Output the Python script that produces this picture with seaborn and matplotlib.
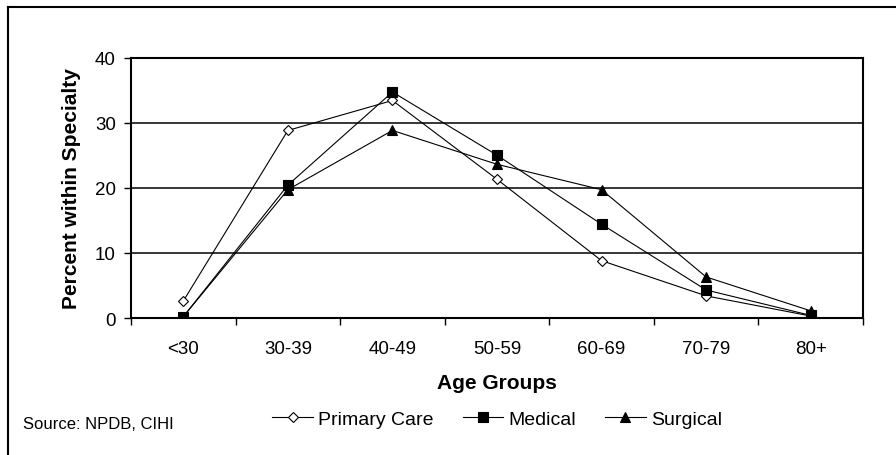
import matplotlib
matplotlib.use("Agg")
import matplotlib.pyplot as plt
import seaborn as sns
import pandas as pd
from matplotlib.lines import Line2D

plt.rcParams['font.family'] = ['Liberation Sans', 'DejaVu Sans']

age_groups = ["<30", "30-39", "40-49", "50-59", "60-69", "70-79", "80+"]
primary_care = [2.6, 28.8, 33.4, 21.3, 8.8, 3.4, 0.3]
medical = [0.2, 20.4, 34.7, 25.0, 14.4, 4.3, 0.4]
surgical = [0.2, 19.7, 28.8, 23.6, 19.7, 6.3, 1.1]
y_ticks = [0, 10, 20, 30, 40]

series = [
    ("Primary Care", primary_care, dict(marker="D", markersize=5.6, markerfacecolor="white")),
    ("Medical", medical, dict(marker="s", markersize=6.5, markerfacecolor="black")),
    ("Surgical", surgical, dict(marker="^", markersize=7.5, markerfacecolor="black")),
]

fig = plt.figure(figsize=(8.96, 4.56), dpi=100)
ax = fig.add_axes([131/896, 1-319/456, (863-131)/896, (319-58.5)/456])

for name, vals, style in series:
    df = pd.DataFrame({"Age": age_groups, "Pct": vals})
    sns.lineplot(data=df, x="Age", y="Pct", ax=ax, color="black", linewidth=0.8,
                 markeredgecolor="black", markeredgewidth=0.8, label=name, legend=False,
                 **style)

ax.set_xlim(-0.5, len(age_groups) - 0.5)
ax.set_ylim(0, 40)
ax.set_yticks(y_ticks)
ax.set_yticklabels([str(v) for v in y_ticks], fontsize=13.5)
ax.yaxis.grid(True, color="black", linewidth=1.1)
ax.set_axisbelow(True)

ax.set_xticks(range(len(age_groups)))
ax.set_xticklabels(age_groups, fontsize=13.5)
ax.tick_params(axis="x", which="major", length=0, pad=16)
ax.set_xticks([i - 0.5 for i in range(len(age_groups) + 1)], minor=True)
ax.tick_params(axis="x", which="minor", length=5, width=1.0, direction="out", color="black")
ax.tick_params(axis="y", which="major", length=5, width=1.0, direction="out", pad=6, color="black")

for s in ax.spines.values():
    s.set_linewidth(1.5)
    s.set_color("black")

ax.set_xlabel("Age Groups", fontsize=15, fontweight="bold")
ax.xaxis.set_label_coords(0.5, -0.21)
ax.set_ylabel("Percent within Specialty", fontsize=15, fontweight="bold")
ax.yaxis.set_label_coords(-0.068, 0.5)

handles = [Line2D([], [], color="black", linewidth=0.8, markeredgecolor="black",
                  markeredgewidth=0.8, **style) for _, _, style in series]
labels = [name for name, _, _ in series]
fig.legend(handles, labels, ncol=3, frameon=False, fontsize=14,
           loc="center", bbox_to_anchor=(497/896, 1-420/456),
           handlelength=2.1, handletextpad=0.25, columnspacing=1.5,
           borderpad=0, borderaxespad=0)

fig.text(23/896, 1-425/456, "Source: NPDB, CIHI", fontsize=12, va="center", ha="left")

fig.add_artist(Line2D([7.5/896, 7.5/896], [0, 1-7.5/456], transform=fig.transFigure,
                      color="black", linewidth=1.5))
fig.add_artist(Line2D([7.5/896, 1], [1-7.5/456, 1-7.5/456], transform=fig.transFigure,
                      color="black", linewidth=1.5))

fig.savefig("out.png", dpi=100)
